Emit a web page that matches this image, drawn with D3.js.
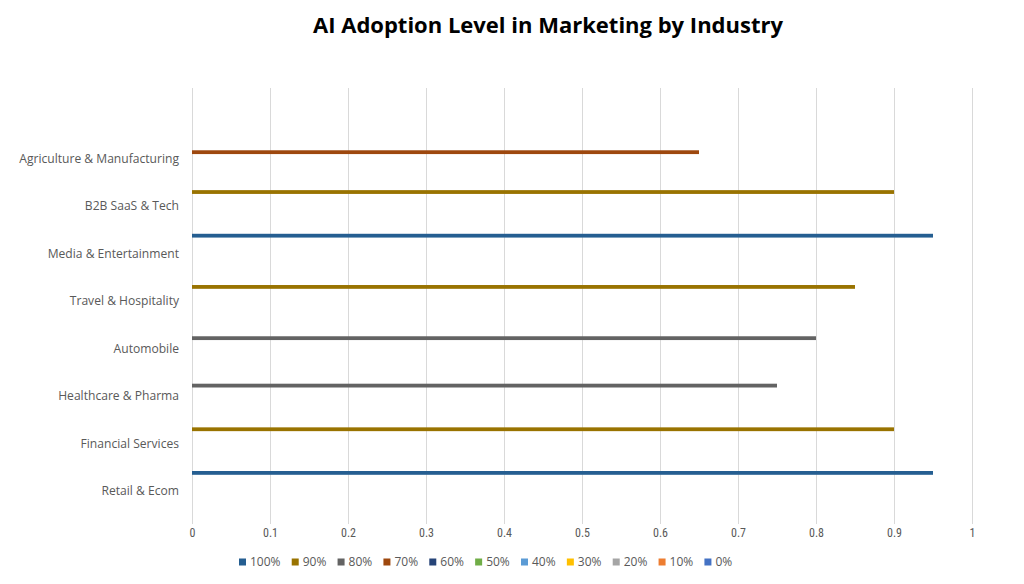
<!DOCTYPE html>
<html><head><meta charset="utf-8">
<script src="https://cdn.jsdelivr.net/npm/d3@7"></script>
<style>html,body{margin:0;padding:0;background:#fff;}svg{display:block;}</style>
</head><body>
<svg id="chart" width="1024" height="584"></svg>
<script>
// Categories, bottom to top (top slot is an empty category)
const categories = ["Retail & Ecom","Financial Services","Healthcare & Pharma","Automobile","Travel & Hospitality","Media & Entertainment","B2B SaaS & Tech","Agriculture & Manufacturing",""];
const values = [0.95, 0.9, 0.75, 0.8, 0.85, 0.95, 0.9, 0.65, null];
const categoryLevel = ["100%","90%","80%","80%","90%","100%","90%","70%",null];
const seriesNames = ["100%","90%","80%","70%","60%","50%","40%","30%","20%","10%","0%"];
const seriesColors = ["#255E91","#997300","#636363","#9E480E","#264478","#70AD47","#5B9BD5","#FFC000","#A5A5A5","#ED7D31","#4472C4"];
const xTicks = [0,0.1,0.2,0.3,0.4,0.5,0.6,0.7,0.8,0.9,1];

const svg = d3.select("#chart");
const mLeft = 192, mRight = 972, mTop = 88, mBottom = 515;

const x = d3.scaleLinear().domain([0,1]).range([mLeft,mRight]);
const y = d3.scaleBand().domain(categories).range([mBottom, mTop]).padding(0);
const ys = d3.scaleBand().domain(seriesNames).range([0, y.bandwidth()]).paddingInner(0).paddingOuter(0.75);

// title
svg.append("text").attr("x", 548).attr("y", 33).attr("text-anchor","middle")
  .attr("font-family","'Open Sans', sans-serif").attr("font-weight","bold").attr("font-size",22)
  .attr("fill","#000").text("AI Adoption Level in Marketing by Industry");

// gridlines
svg.append("g").selectAll("line").data(xTicks).join("line")
  .attr("x1", d=>Math.round(x(d))+0.5).attr("x2", d=>Math.round(x(d))+0.5)
  .attr("y1", mTop).attr("y2", mBottom+9)
  .attr("stroke","#d9d9d9").attr("stroke-width",1);

// x axis labels
const xAxis = d3.axisBottom(x).tickValues(xTicks).tickSize(0).tickPadding(0).tickFormat(d3.format("~g"));
const gx = svg.append("g").attr("transform",`translate(0,${mBottom+13})`).call(xAxis);
gx.select(".domain").remove();
gx.selectAll("text").attr("font-family","'Liberation Sans Narrow','Roboto Condensed','Open Sans',sans-serif")
  .attr("font-size",12).attr("fill","#595959");

// y axis labels
const yAxis = d3.axisLeft(y).tickSize(0).tickPadding(13);
const gy = svg.append("g").attr("transform",`translate(${mLeft},0)`).call(yAxis);
gy.select(".domain").remove();
gy.selectAll("text").attr("font-family","'Open Sans',sans-serif").attr("font-size",12.1).attr("fill","#595959");

// bars
const data = categories.map((c,i)=>({c, v: values[i], s: categoryLevel[i]})).filter(d=>d.v!=null);
svg.append("g").selectAll("rect").data(data).join("rect")
  .attr("x", x(0)).attr("width", d=>x(d.v)-x(0))
  .attr("y", d=>y(d.c)+ys(d.s)+0.6).attr("height", ys.bandwidth())
  .attr("fill", d=>seriesColors[seriesNames.indexOf(d.s)]);

// legend
const lg = svg.append("g").attr("transform","translate(239,562)");
let lx = 0;
seriesNames.forEach((s,i)=>{
  const g = lg.append("g").attr("transform",`translate(${lx},0)`);
  g.append("rect").attr("x",0).attr("y",-3.5).attr("width",7).attr("height",7).attr("fill",seriesColors[i]);
  const t = g.append("text").attr("x",11).attr("y",0).attr("dy","0.35em")
    .attr("font-family","'Open Sans',sans-serif").attr("font-size",12).attr("fill","#595959").text(s);
  lx += 11 + t.node().getComputedTextLength() + 11.2;
});
</script>
</body></html>
